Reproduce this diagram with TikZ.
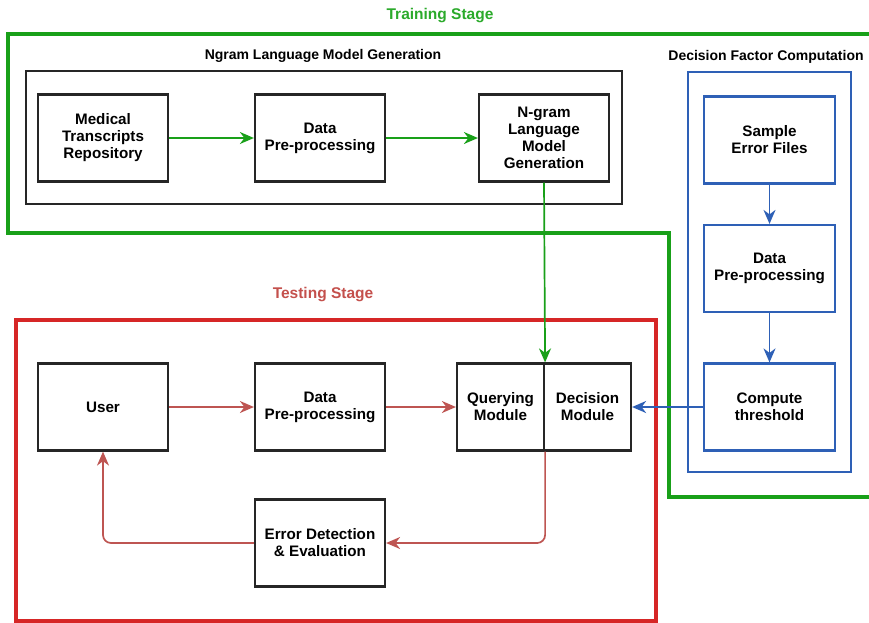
\documentclass[tikz,border=0pt]{standalone}
\usepackage{fontspec}
\setmainfont{Liberation Sans}
\usetikzlibrary{arrows.meta}

\definecolor{stgreen}{HTML}{19A019}
\definecolor{stgreentxt}{HTML}{2BAA2B}
\definecolor{stred}{HTML}{D62626}
\definecolor{stredtxt}{HTML}{C4504C}
\definecolor{flowred}{HTML}{BE5552}
\definecolor{stblue}{HTML}{2E60B6}

\tikzset{
  procbox/.style={draw=black!85, line width=2.2pt, align=center, inner sep=0pt,
    minimum width=130pt, minimum height=87pt,
    font=\fontsize{15.2}{17}\selectfont\bfseries},
  halfbox/.style={procbox, minimum width=87pt},
  bluebox/.style={procbox, draw=stblue, minimum width=131pt},
  grouptitle/.style={font=\fontsize{14}{16}\selectfont\bfseries, inner sep=0pt},
  tip/.style={-{Stealth[length=14pt,width=12pt,inset=4.5pt]}},
  greenflow/.style={tip, draw=stgreen, line width=1.7pt},
  redflow/.style={tip, draw=flowred, line width=1.7pt, rounded corners=8pt},
  blueflow/.style={tip, draw=stblue, line width=1.9pt},
}

\begin{document}
\begin{tikzpicture}[x=1pt, y=-1pt]
\clip (0,0) rectangle (869,622);
\fill[white] (0,0) rectangle (869,622);

% Training stage outline
\draw[stgreen, line width=3.2pt]
  (875,34) -- (8,34) -- (8,233) -- (669,233) -- (669,497) -- (875,497);
\node[grouptitle, text=stgreentxt, font=\fontsize{15.5}{17}\selectfont\bfseries]
  (trainT) at (440,16) {Training Stage};

% Ngram language model generation group
\draw[black!85, line width=2pt] (26,71) rectangle (622,204);
\node[grouptitle] (ngramT) at (323,56) {Ngram Language Model Generation};
\node[procbox] (med)   at (103,138) {Medical\\Transcripts\\Repository};
\node[procbox] (prep1) at (320,138) {Data\\Pre-processing};
\node[procbox] (ngram) at (544,138) {N-gram\\Language\\Model\\Generation};

% Decision factor computation group
\draw[stblue, line width=2pt] (688,72) rectangle (851,472);
\node[grouptitle] (dfcT) at (766,57) {Decision Factor Computation};
\node[bluebox] (sample)  at (769.5,140) {Sample\\Error Files};
\node[bluebox] (prep3)   at (769.5,268.5) {Data\\Pre-processing};
\node[bluebox] (thresh)  at (769.5,407) {Compute\\threshold};

% Testing stage
\draw[stred, line width=3.2pt] (16,320) rectangle (656,621);
\node[grouptitle, text=stredtxt, font=\fontsize{15.5}{17}\selectfont\bfseries]
  (testT) at (323,295) {Testing Stage};
\node[procbox] (user)  at (103,407) {User};
\node[procbox] (prep2) at (320,407) {Data\\Pre-processing};
\node[halfbox] (query) at (500.5,407) {Querying\\Module};
\node[halfbox] (decis) at (587.5,407) {Decision\\Module};
\node[procbox] (err)   at (320,543) {Error Detection\\\& Evaluation};

% Connectors
\draw[greenflow] (med) -- (prep1);
\draw[greenflow] (prep1) -- (ngram);
\draw[greenflow] (ngram.south) -- (query.north east);

\draw[blueflow] (sample) -- (prep3);
\draw[blueflow] (prep3) -- (thresh);
\draw[blueflow] (thresh) -- (decis);

\draw[redflow] (user) -- (prep2);
\draw[redflow] (prep2) -- (query);
\draw[redflow] (query.south east) |- (err.east);
\draw[redflow] (err.west) -| (user.south);
\end{tikzpicture}
\end{document}
